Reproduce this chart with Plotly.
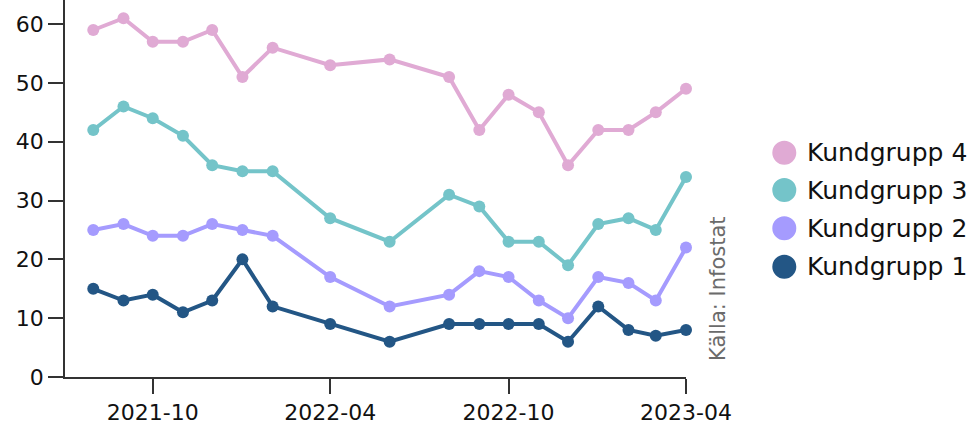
import plotly.graph_objects as go

dates = ["2021-08-01", "2021-09-01", "2021-10-01", "2021-11-01", "2021-12-01",
         "2022-01-01", "2022-02-01", "2022-04-01", "2022-06-01", "2022-08-01",
         "2022-09-01", "2022-10-01", "2022-11-01", "2022-12-01", "2023-01-01",
         "2023-02-01", "2023-03-01", "2023-04-01"]

kundgrupp_1 = [15, 13, 14, 11, 13, 20, 12, 9, 6, 9, 9, 9, 9, 6, 12, 8, 7, 8]
kundgrupp_2 = [25, 26, 24, 24, 26, 25, 24, 17, 12, 14, 18, 17, 13, 10, 17, 16, 13, 22]
kundgrupp_3 = [42, 46, 44, 41, 36, 35, 35, 27, 23, 31, 29, 23, 23, 19, 26, 27, 25, 34]
kundgrupp_4 = [59, 61, 57, 57, 59, 51, 56, 53, 54, 51, 42, 48, 45, 36, 42, 42, 45, 49]

series_names = ["Kundgrupp 1", "Kundgrupp 2", "Kundgrupp 3", "Kundgrupp 4"]
series_values = [kundgrupp_1, kundgrupp_2, kundgrupp_3, kundgrupp_4]
colors = ["#235685", "#A59BFE", "#74C4C9", "#E0AAD4"]

x_tickvals = ["2021-10-01", "2022-04-01", "2022-10-01", "2023-04-01"]
x_ticktext = ["2021-10", "2022-04", "2022-10", "2023-04"]
y_tickvals = [0, 10, 20, 30, 40, 50, 60]

FONT = "DejaVu Sans"

fig = go.Figure()
for name, vals, col in zip(series_names, series_values, colors):
    fig.add_trace(go.Scatter(
        x=dates, y=vals, name=name, mode="lines+markers",
        line=dict(color=col, width=4),
        marker=dict(color=col, size=12),
        cliponaxis=False, showlegend=False,
    ))

# custom legend (large circles + labels), top item = Kundgrupp 4
W, H = 621.0, 377.0
legend_cy = [152.7, 190.0, 228.3, 266.7]
shapes = []
annotations = []
for i, (name, col) in enumerate(zip(series_names[::-1], colors[::-1])):
    py = (377 - legend_cy[i]) / H
    px = (784.3 - 65) / W
    shapes.append(dict(
        type="circle", xref="paper", yref="paper",
        xsizemode="pixel", ysizemode="pixel",
        xanchor=px, yanchor=py, x0=-12, x1=12, y0=-12, y1=12,
        fillcolor=col, line=dict(width=0),
    ))
    annotations.append(dict(
        x=(805 - 65) / W, y=py, xref="paper", yref="paper",
        xanchor="left", yanchor="middle", showarrow=False,
        text=name, font=dict(family=FONT, size=25, color="#111"),
    ))

annotations.append(dict(
    x=(718 - 65) / W, y=(377 - 289) / H, xref="paper", yref="paper",
    xanchor="center", yanchor="middle", showarrow=False, textangle=-90,
    text="Källa: Infostat", font=dict(family=FONT, size=21, color="#6b6b6b"),
))

fig.update_layout(
    width=978, height=424,
    margin=dict(l=65, r=292, t=0, b=47),
    paper_bgcolor="white", plot_bgcolor="white",
    font=dict(family=FONT, size=22, color="#111"),
    shapes=shapes, annotations=annotations,
    xaxis=dict(
        range=["2021-07-03", "2023-04-01"], type="date",
        tickvals=x_tickvals, ticktext=x_ticktext,
        showgrid=False, zeroline=False,
        showline=True, linecolor="#333", linewidth=1.5,
        ticks="outside", ticklen=15, tickwidth=1.5, tickcolor="#333",
        tickfont=dict(family=FONT, size=22, color="#111"),
    ),
    yaxis=dict(
        range=[0, 64.1], tickvals=y_tickvals,
        showgrid=False, zeroline=False,
        showline=True, linecolor="#333", linewidth=1.5,
        ticks="outside", ticklen=15, tickwidth=1.5, tickcolor="#333",
        tickfont=dict(family=FONT, size=22, color="#111"),
    ),
)

fig.write_html("out.html",
               config={"displayModeBar": False},
               post_script="document.body.style.margin='0';document.body.style.overflow='hidden';")
